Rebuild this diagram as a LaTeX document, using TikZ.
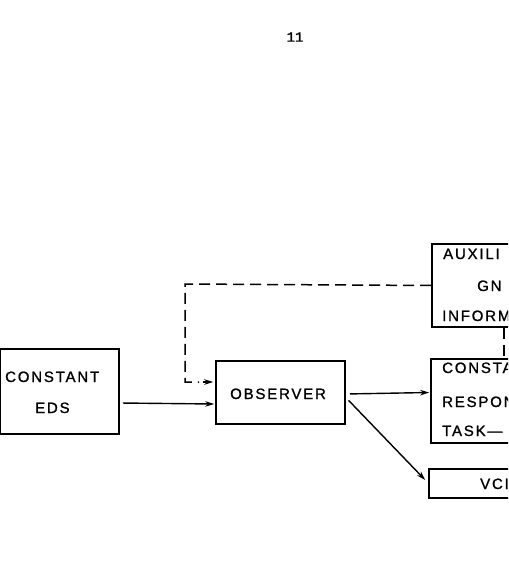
\documentclass[tikz,border=0pt]{standalone}
\usepackage{fontspec}
\usetikzlibrary{arrows.meta}
\newfontfamily\lettering[LetterSpace=12,FakeBold=1.2]{Liberation Sans}
\newfontfamily\pagefont[FakeBold=1.5]{Liberation Mono}
\begin{document}
\begin{tikzpicture}[x=1pt,y=-1pt,
  blockbox/.style={draw, line width=1.6pt, rectangle, inner sep=0pt},
  label/.style={inner sep=0pt, anchor=base west, font=\lettering\fontsize{15}{15}\selectfont},
  flow/.style={line width=1.4pt, -{Stealth[length=9pt,width=5.5pt]}},
  dashflow/.style={line width=1.5pt, dash pattern=on 11pt off 6pt}
]
\useasboundingbox (0,0) rectangle (508,572);
\clip (0,0) rectangle (508,572);

% page number
\node[inner sep=0pt, font=\pagefont\fontsize{14}{14}\selectfont] (pagenum) at (295,37) {11};

% blocks
\node[blockbox, minimum width=119pt, minimum height=85pt] (eds) at (59.5,391.5) {};
\node[blockbox, minimum width=129pt, minimum height=63pt] (obs) at (280.5,392.5) {};
\node[blockbox, minimum width=128pt, minimum height=83pt] (aux) at (496,285.5) {};
\node[blockbox, minimum width=129pt, minimum height=84pt] (cst) at (495.5,401) {};
\node[blockbox, minimum width=131pt, minimum height=29pt] (vc) at (494.5,483.5) {};

% block labels
\node[label] (t1) at (5,382) {CONSTANT};
\node[label] (t2) at (35,413) {EDS};
\node[label] (t3) at (230,399) {OBSERVER};
\node[label] (t4) at (443,259) {AUXILI};
\node[label] (t5) at (477,291) {GN};
\node[label] (t6) at (442,321) {INFORM};
\node[label] (t7) at (442,373) {CONSTA};
\node[label] (t8) at (442,407) {RESPON};
\node[label] (t9) at (442,436) {TASK—};
\node[label] (t10) at (480,489) {VCI};

% routing points of the dashed lines
\coordinate (dtop) at (185,284);
\coordinate (dbot) at (185,382);
\coordinate (dvx) at (504,0);

% connectors
\draw[flow, shorten <=3pt] ([yshift=-11.5pt]eds.east) -- ([yshift=-11.5pt, xshift=-1pt]obs.west);
\draw[flow, shorten <=4pt] ([yshift=-1.5pt]obs.east) -- ([xshift=-1pt]obs.east -| cst.west) ;
\draw[flow, shorten <=4pt] ([yshift=-5pt]obs.east) -- ([xshift=-3pt, yshift=3.5pt]vc.west);
\draw[dashflow] (aux.west) -- (dtop) -- (dbot) -- ([yshift=10.5pt, xshift=-16pt]obs.west);
\draw[flow] ([yshift=10.5pt, xshift=-12pt]obs.west) -- ([yshift=10.5pt, xshift=-2pt]obs.west);
\draw[dashflow] (aux.south -| dvx) -- (cst.north -| dvx);
\end{tikzpicture}
\end{document}
